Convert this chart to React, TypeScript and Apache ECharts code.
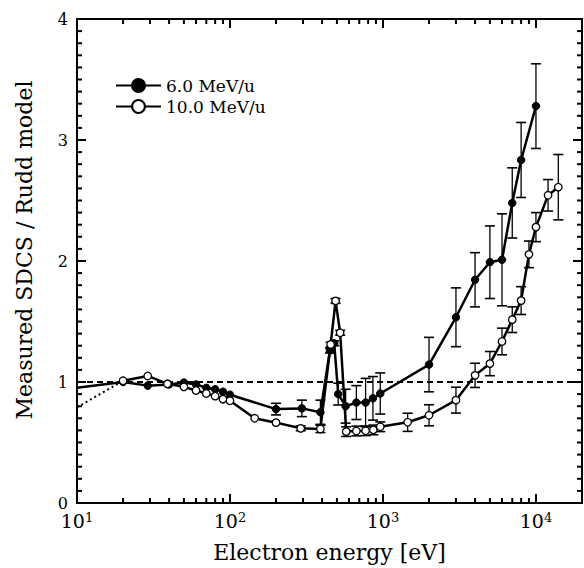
import React, { useEffect, useRef } from 'react';
import * as echarts from 'echarts';

// 6.0 MeV/u (filled circles)
const energy6 = [10, 20, 29, 40, 50, 60, 70, 80, 90, 100, 200, 295, 390, 450, 480, 510, 570, 670, 770, 860, 960, 2000, 3000, 4000, 5000, 6000, 7000, 8000, 10000];
const ratio6 = [0.952, 1.0, 0.97, 0.98, 0.995, 0.98, 0.952, 0.94, 0.92, 0.895, 0.776, 0.782, 0.75, 1.26, 1.32, 0.9, 0.8, 0.83, 0.83, 0.865, 0.905, 1.144, 1.535, 1.845, 1.99, 2.01, 2.48, 2.835, 3.28];
const err6 = [0, 0, 0, 0, 0, 0, 0, 0, 0, 0, 0.048, 0.068, 0.1, 0.02, 0.02, 0.09, 0.14, 0.14, 0.2, 0.18, 0.17, 0.225, 0.243, 0.224, 0.3, 0.38, 0.29, 0.31, 0.35];

// 10.0 MeV/u (open circles)
const energy10 = [20, 29, 39, 50, 60, 70, 80, 90, 100, 145, 200, 290, 390, 455, 490, 525, 575, 670, 770, 865, 960, 1450, 2000, 3000, 4000, 5000, 6000, 7000, 8000, 9000, 10000, 12000, 14000];
const ratio10 = [1.01, 1.05, 0.985, 0.96, 0.93, 0.905, 0.883, 0.858, 0.845, 0.7, 0.664, 0.617, 0.612, 1.31, 1.67, 1.407, 0.59, 0.595, 0.597, 0.604, 0.63, 0.667, 0.725, 0.85, 1.055, 1.152, 1.335, 1.515, 1.673, 2.055, 2.28, 2.543, 2.61];
const err10 = [0, 0, 0, 0, 0, 0, 0, 0, 0, 0, 0, 0.02, 0.03, 0.02, 0.02, 0.02, 0.04, 0.04, 0.04, 0.04, 0.04, 0.075, 0.087, 0.107, 0.1, 0.1, 0.11, 0.106, 0.115, 0.11, 0.12, 0.13, 0.27];

// dotted extrapolation of the 10.0 MeV/u data
const dottedEnergy = [10, 20];
const dottedRatio = [0.79, 1.01];

const seriesNames = ['6.0 MeV/u', '10.0 MeV/u'];
const xMajorTicks = [10, 100, 1000, 10000];
const X_MIN = 10;
const X_MAX = 20000;
const Y_MIN = 0;
const Y_MAX = 4;
const refValue = 1;

const FONT = 'DejaVu Serif';

const xMinorTicks: number[] = [];
for (let d = 10; d <= 10000; d *= 10) {
  for (let m = 2; m <= 9; m++) {
    if (m * d < X_MAX) xMinorTicks.push(m * d);
  }
}
const yMinorTicks: number[] = [];
for (let k = 1; k < 40; k++) if (k % 10 !== 0) yMinorTicks.push(k / 10);

function errorBars(xs: number[], ys: number[], es: number[], z: number) {
  const data = xs
    .map((x, i) => [x, ys[i] - es[i], ys[i] + es[i], es[i]])
    .filter((d) => d[3] > 0);
  return {
    type: 'custom',
    silent: true,
    z,
    clip: false,
    encode: { x: 0, y: [1, 2] },
    data,
    renderItem: (_p: any, api: any) => {
      const x = api.value(0);
      const lo = api.coord([x, api.value(1)]);
      const hi = api.coord([x, api.value(2)]);
      const w = 5;
      return {
        type: 'group',
        children: [
          { type: 'line', shape: { x1: lo[0], y1: lo[1], x2: hi[0], y2: hi[1] }, style: { stroke: '#000', lineWidth: 1.3 } },
          { type: 'line', shape: { x1: lo[0] - w, y1: lo[1], x2: lo[0] + w, y2: lo[1] }, style: { stroke: '#000', lineWidth: 1.6 } },
          { type: 'line', shape: { x1: hi[0] - w, y1: hi[1], x2: hi[0] + w, y2: hi[1] }, style: { stroke: '#000', lineWidth: 1.6 } },
        ],
      };
    },
  };
}

// minor tick series: points on an edge, drawn as short inward lines
function tickSeries(points: number[][], dx: number, dy: number) {
  return {
    type: 'custom',
    silent: true,
    clip: false,
    encode: { x: 0, y: 1 },
    data: points,
    renderItem: (_p: any, api: any) => {
      const p = api.coord([api.value(0), api.value(1)]);
      return {
        type: 'line',
        shape: { x1: p[0], y1: p[1], x2: p[0] + dx, y2: p[1] + dy },
        style: { stroke: '#000', lineWidth: 2 },
      };
    },
  };
}

const mkLine = () => ({ show: true, onZero: false, lineStyle: { color: '#000', width: 2 } });
const mkTick = () => ({ show: true, inside: true, length: 9, lineStyle: { color: '#000', width: 2 } });

export default function App() {
  const ref = useRef<HTMLDivElement>(null);
  useEffect(() => {
    document.body.style.margin = '0';
    const chart = echarts.init(ref.current!, undefined, { renderer: 'svg' });
    const isMajor = (v: number) => xMajorTicks.some((t) => Math.abs(t - v) / t < 1e-6);
    const option: any = {
      animation: false,
      grid: { left: 77, right: 2, top: 19, bottom: 63, show: true, borderColor: '#000', borderWidth: 2 },
      legend: {
        data: seriesNames,
        orient: 'vertical',
        left: 110,
        top: 72,
        itemWidth: 45,
        itemHeight: 16,
        itemGap: 4,
        textStyle: { fontFamily: FONT, fontSize: 17, color: '#000' },
      },
      xAxis: [
        {
          type: 'log',
          logBase: 10,
          min: X_MIN,
          max: X_MAX,
          position: 'bottom',
          name: 'Electron energy [eV]',
          nameLocation: 'middle',
          nameGap: 38,
          nameTextStyle: { fontFamily: FONT, fontSize: 22, color: '#000' },
          axisLine: mkLine(),
          axisTick: mkTick(),
          splitLine: { show: false },
          axisLabel: {
            show: true,
            margin: 8,
            showMaxLabel: false,
            formatter: (v: number) => (isMajor(v) ? `{b|10}{s|${Math.round(Math.log10(v))}}` : ''),
            rich: {
              b: { fontFamily: FONT, fontSize: 19, color: '#000', verticalAlign: 'bottom', lineHeight: 19, padding: [8, 0, 0, 0] },
              s: { fontFamily: FONT, fontSize: 13, color: '#000', verticalAlign: 'top', lineHeight: 13 },
            },
          },
        },
        {
          type: 'log',
          logBase: 10,
          min: X_MIN,
          max: X_MAX,
          position: 'top',
          axisLine: mkLine(),
          axisTick: mkTick(),
          axisLabel: { show: false },
          splitLine: { show: false },
        },
      ],
      yAxis: [
        {
          type: 'value',
          min: Y_MIN,
          max: Y_MAX,
          interval: 1,
          position: 'left',
          name: 'Measured SDCS / Rudd model',
          nameLocation: 'middle',
          nameGap: 42,
          nameTextStyle: { fontFamily: FONT, fontSize: 22, color: '#000', padding: [0, 0, 0, 22] },
          axisLine: mkLine(),
          axisTick: mkTick(),
          splitLine: { show: false },
          axisLabel: { fontFamily: FONT, fontSize: 16, lineHeight: 12, color: '#000', margin: 9 },
        },
        {
          type: 'value',
          min: Y_MIN,
          max: Y_MAX,
          interval: 1,
          position: 'right',
          axisLine: mkLine(),
          axisTick: mkTick(),
          splitLine: { show: false },
          axisLabel: { show: false },
        },
      ],
      series: [
        tickSeries(xMinorTicks.map((v) => [v, Y_MIN]), 0, -5),
        tickSeries(xMinorTicks.map((v) => [v, Y_MAX]), 0, 5),
        tickSeries(yMinorTicks.map((v) => [X_MIN, v]), 5, 0),
        tickSeries(yMinorTicks.map((v) => [X_MAX, v]), -5, 0),
        {
          type: 'line',
          name: 'dotted',
          data: dottedEnergy.map((x, i) => [x, dottedRatio[i]]),
          showSymbol: false,
          symbol: 'none',
          lineStyle: { color: '#000', width: 2, type: [2, 3] },
          silent: true,
          markLine: {
            silent: true,
            symbol: 'none',
            label: { show: false },
            lineStyle: { color: '#000', width: 2, type: [6, 4] },
            data: [{ yAxis: refValue }],
          },
        },
        errorBars(energy6, ratio6, err6, 3),
        errorBars(energy10, ratio10, err10, 3),
        {
          type: 'line',
          name: seriesNames[0],
          data: energy6.map((x, i) => (x === X_MIN ? { value: [x, ratio6[i]], symbol: 'none' } : [x, ratio6[i]])),
          symbol: 'circle',
          symbolSize: 7.5,
          showAllSymbol: true,
          itemStyle: { color: '#000', borderColor: '#000', borderWidth: 1 },
          lineStyle: { color: '#000', width: 2.5 },
          z: 4,
        },
        {
          type: 'line',
          name: seriesNames[1],
          data: energy10.map((x, i) => [x, ratio10[i]]),
          symbol: 'circle',
          symbolSize: 7.5,
          showAllSymbol: true,
          itemStyle: { color: '#fff', borderColor: '#000', borderWidth: 1.3 },
          lineStyle: { color: '#000', width: 2.5 },
          z: 5,
        },
      ],
    };
    chart.setOption(option);
    return () => chart.dispose();
  }, []);
  return <div ref={ref} style={{ width: 584, height: 568 }} />;
}
